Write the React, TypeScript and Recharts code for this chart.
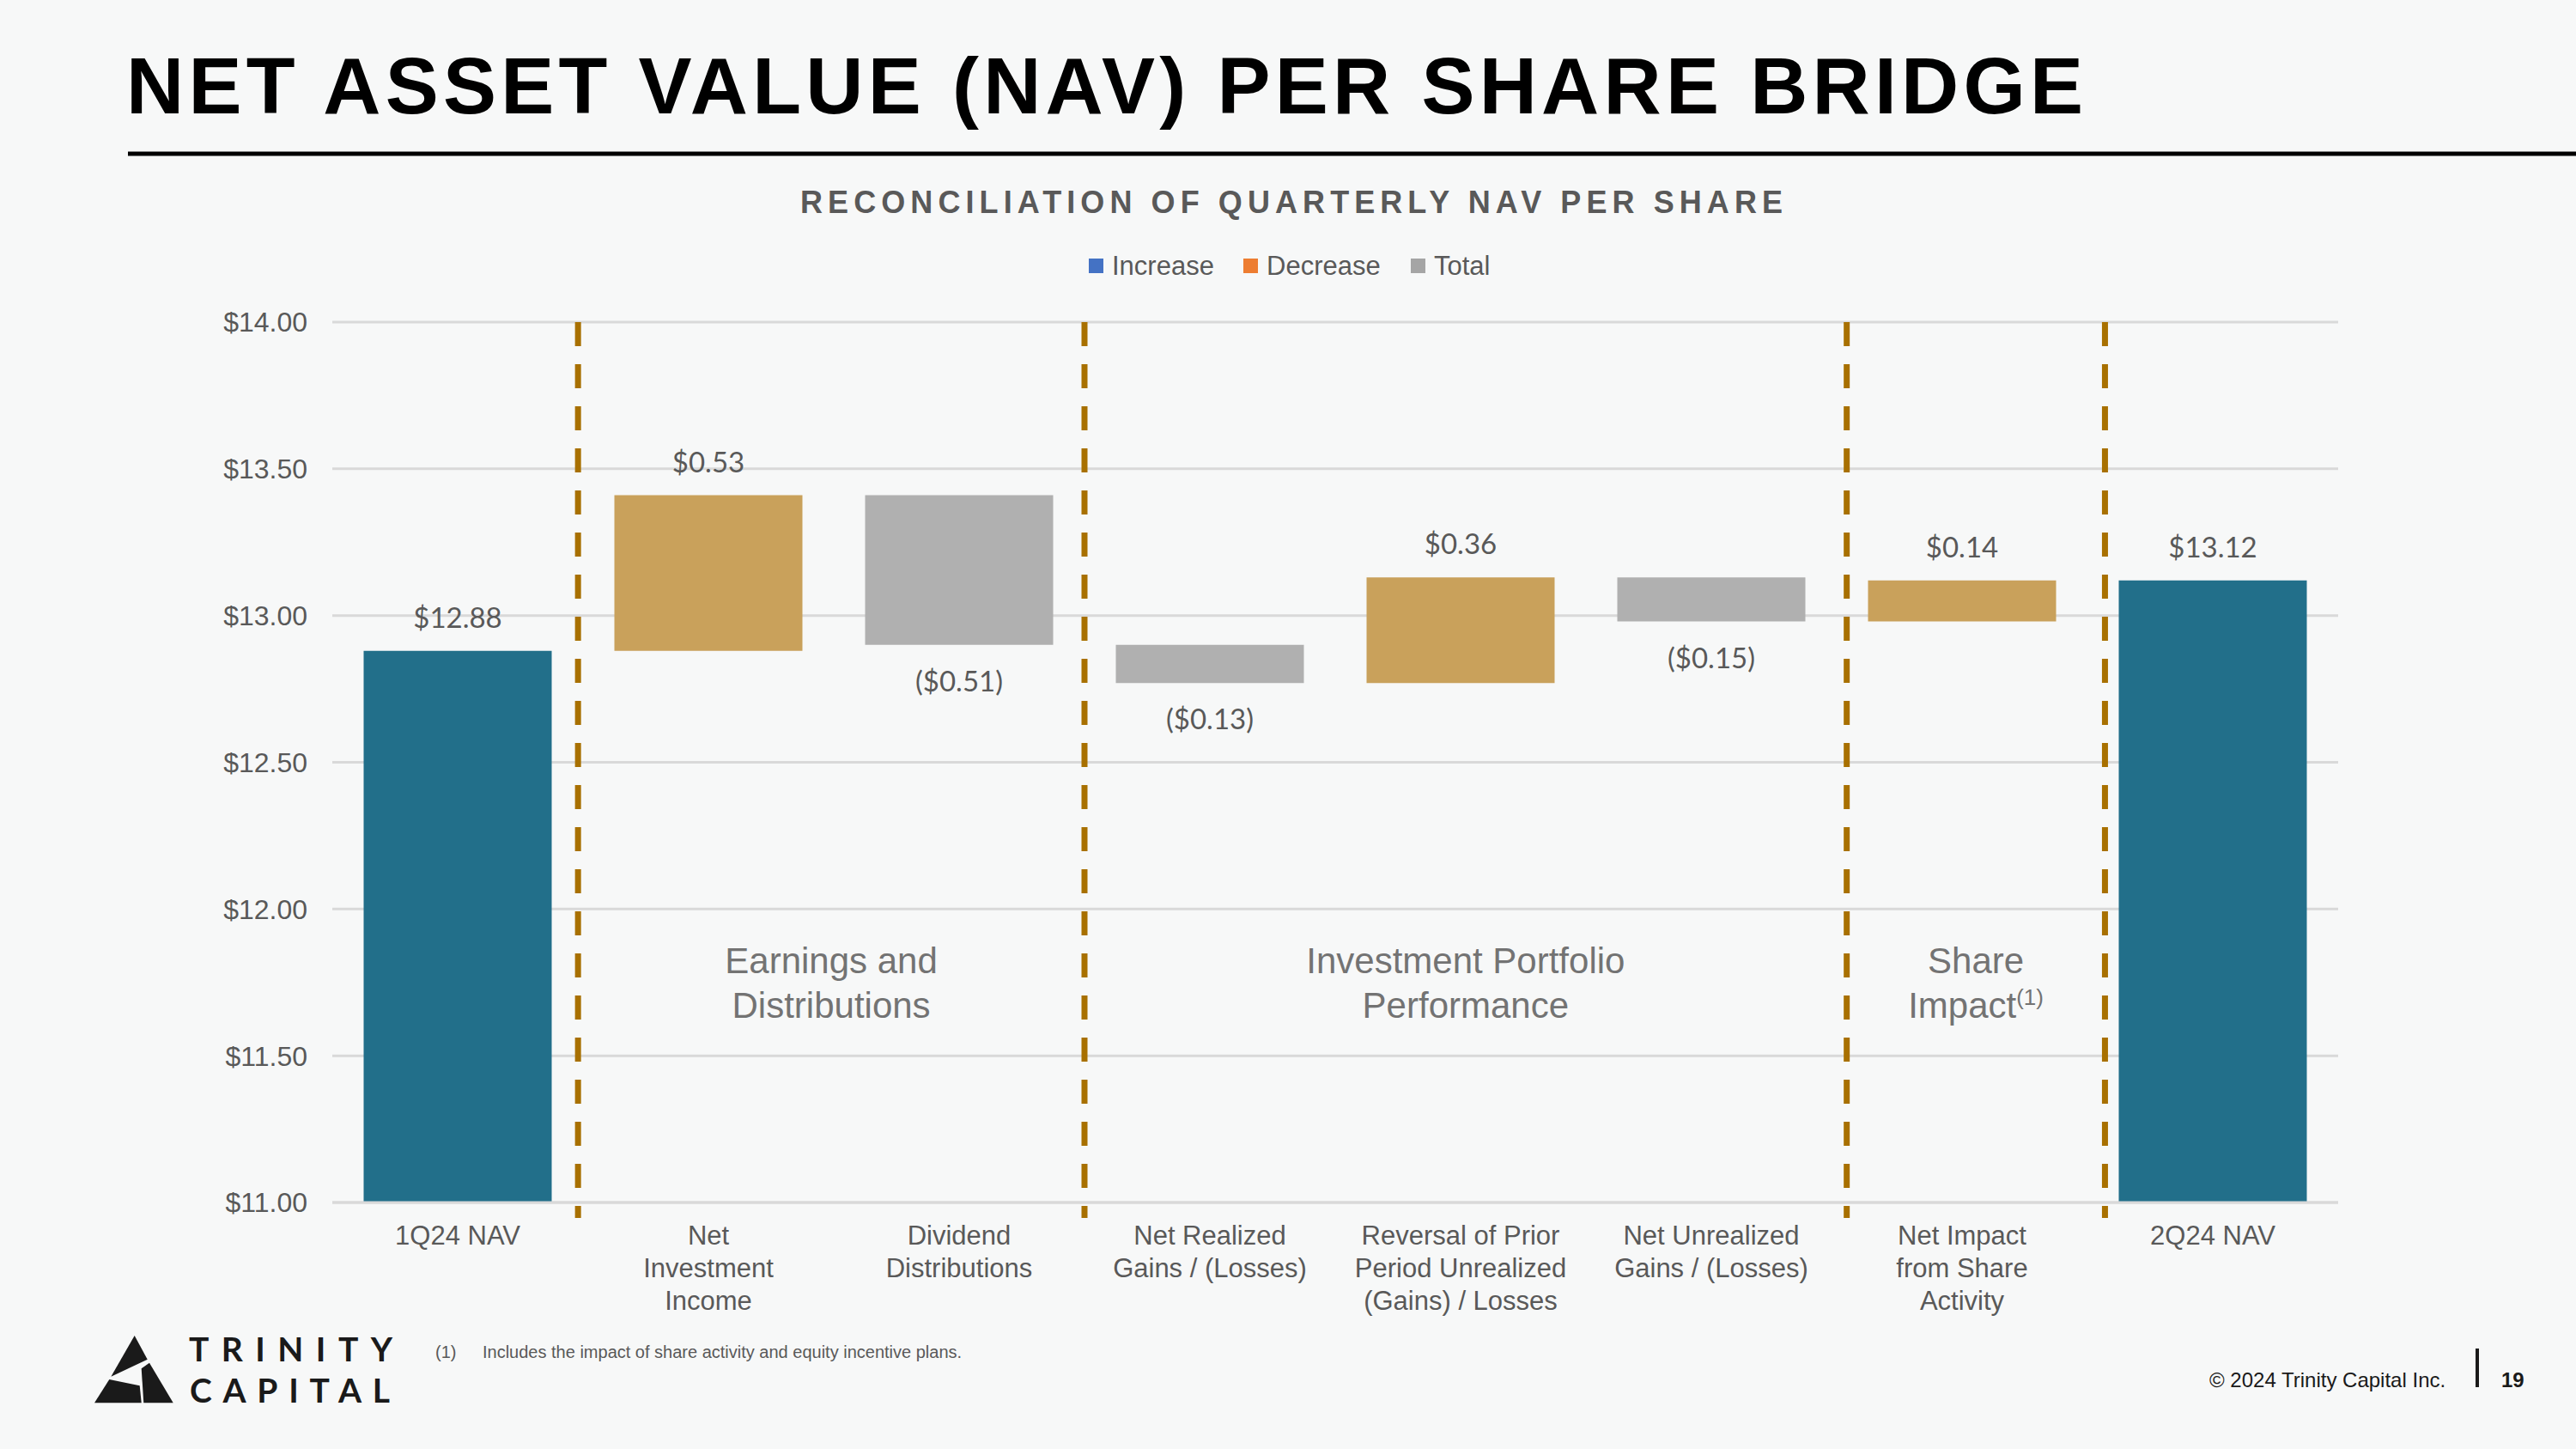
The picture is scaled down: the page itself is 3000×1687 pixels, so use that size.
import { BarChart, Bar, XAxis, YAxis, CartesianGrid, ReferenceLine, LabelList, Cell } from "recharts";

// NAV bridge, 1Q24 -> 2Q24
const categories = [
  "1Q24 NAV",
  "Net\nInvestment\nIncome",
  "Dividend\nDistributions",
  "Net Realized\nGains / (Losses)",
  "Reversal of Prior\nPeriod Unrealized\n(Gains) / Losses",
  "Net Unrealized\nGains / (Losses)",
  "Net Impact\nfrom Share\nActivity",
  "2Q24 NAV",
];
const changes = [12.88, 0.53, -0.51, -0.13, 0.36, -0.15, 0.14, 13.12];
const kinds = ["total", "increase", "decrease", "decrease", "increase", "decrease", "increase", "total"];
const yTicks = [11, 11.5, 12, 12.5, 13, 13.5, 14];
// section boundaries, in category units (0 = centre of the first bar)
const dividers = [0.48, 2.5, 5.54, 6.57];
const groupTitles = [
  { from: 0, to: 1, lines: ["Earnings and", "Distributions"], note: false },
  { from: 1, to: 2, lines: ["Investment Portfolio", "Performance"], note: false },
  { from: 2, to: 3, lines: ["Share", "Impact"], note: true },
];
const legendItems = [
  { label: "Increase", color: "#4472C4" },
  { label: "Decrease", color: "#ED7D31" },
  { label: "Total", color: "#A5A5A5" },
];

const COLORS: Record<string, string> = { total: "#226F8A", increase: "#C9A15B", decrease: "#B0B0B0" };
const ARIAL = '"Liberation Sans", Arial, sans-serif';
const GOLD_LINE = "#A87000";

let running = 0;
const rows = categories.map((name, i) => {
  const kind = kinds[i];
  let range: number[];
  if (kind === "total") {
    running = changes[i];
    range = [0, changes[i]];
  } else {
    const start = running;
    running = Math.round((running + changes[i]) * 100) / 100;
    range = [Math.min(start, running), Math.max(start, running)];
  }
  return { name, slot: i, range, kind, change: changes[i] };
});

const fmt = (v: number) => (v < 0 ? `($${Math.abs(v).toFixed(2)})` : `$${v.toFixed(2)}`);

// plot box
const PLOT_L = 387;
const PLOT_R = 2723;
const PLOT_T = 375;
const PLOT_B = 1400;
const X_AXIS_H = 30;
const slotX = (u: number) => PLOT_L + ((PLOT_R - PLOT_L) * (u + 0.5)) / categories.length;

function CategoryTick(props: any) {
  const { x, y, payload } = props;
  const lines = String(payload.value).split("\n");
  return (
    <text x={x} y={y} textAnchor="middle" fill="#595959" fontSize={31} fontFamily={ARIAL}>
      {lines.map((l, i) => (
        <tspan key={i} x={x} dy={i === 0 ? 49 : 38}>
          {l}
        </tspan>
      ))}
    </text>
  );
}

function ValueLabel(props: any) {
  const { x, y, width, height, index } = props;
  const top = Math.min(y, y + height);
  const bottom = Math.max(y, y + height);
  const below = kinds[index] === "decrease";
  return (
    <text
      x={x + width / 2}
      y={below ? bottom + 54 : top - 27}
      textAnchor="middle"
      fontSize={33}
      fill="#595959"
      fontFamily="Lato, sans-serif"
    >
      {fmt(changes[index])}
    </text>
  );
}

// dashed divider, drawn top-down and run a little past the axis
const DividerLine = (p: any) => {
  const top = Math.min(p.y1, p.y2);
  const bottom = Math.max(p.y1, p.y2);
  return (
    <line x1={p.x1} y1={top} x2={p.x2} y2={bottom + 18} stroke={GOLD_LINE} strokeWidth={7} strokeDasharray="28 21" />
  );
};

function Logo() {
  return (
    <g>
      <polygon points="156.7,1555 171.7,1582.7 129.3,1602.7" fill="#1a1a1a" />
      <polygon points="174,1586.7 201.7,1633.3 167.3,1633.3 164.7,1593.3" fill="#1a1a1a" />
      <polygon points="127.3,1606 162.7,1613.3 164.7,1633.3 110,1633.3" fill="#1a1a1a" />
      <text x={220} y={1585} fontSize={39} fontWeight={700} fontFamily="Lato, sans-serif" fill="#1a1a1a" textLength={237} lengthAdjust="spacing">
        TRINITY
      </text>
      <text x={221} y={1633} fontSize={39} fontWeight={700} fontFamily="Lato, sans-serif" fill="#1a1a1a" textLength={233} lengthAdjust="spacing">
        CAPITAL
      </text>
    </g>
  );
}

export default function App() {
  const legendX = [1268, 1448, 1643];
  return (
    <div
      style={{
        position: "absolute",
        left: 0,
        top: 0,
        width: 3000,
        height: 1687,
        background: "#F7F8F8",
        overflow: "hidden",
        fontFamily: ARIAL,
      }}
    >
      <div style={{ position: "absolute", left: 0, top: 0 }}>
        <BarChart
          width={3000}
          height={1687}
          data={rows}
          barCategoryGap="12.5%"
          margin={{ top: PLOT_T, right: 3000 - PLOT_R, bottom: 1687 - PLOT_B - X_AXIS_H, left: 0 }}
        >
          <CartesianGrid vertical={false} stroke="#D9D9D9" strokeWidth={3} />
          <XAxis
            dataKey="name"
            interval={0}
            height={X_AXIS_H}
            tickLine={false}
            tickSize={0}
            tickMargin={0}
            axisLine={{ stroke: "#D9D9D9", strokeWidth: 3 }}
            tick={<CategoryTick />}
          />
          <XAxis
            xAxisId="pos"
            dataKey="slot"
            type="number"
            domain={[-0.5, categories.length - 0.5]}
            allowDataOverflow
            hide
          />
          <YAxis
            width={PLOT_L}
            domain={[11, 14]}
            ticks={yTicks}
            allowDataOverflow
            axisLine={false}
            tickLine={false}
            tickSize={0}
            tickMargin={29}
            tickFormatter={(v: number) => `$${v.toFixed(2)}`}
            tick={{ fill: "#595959", fontSize: 32, fontFamily: ARIAL }}
          />
          <Bar dataKey="range" isAnimationActive={false}>
            {rows.map((r, i) => (
              <Cell key={i} fill={COLORS[r.kind]} />
            ))}
            <LabelList dataKey="range" content={<ValueLabel />} />
          </Bar>
          {dividers.map((d) => (
            <ReferenceLine key={d} xAxisId="pos" x={d} ifOverflow="visible" shape={<DividerLine />} />
          ))}
        </BarChart>
      </div>

      <svg width={3000} height={1687} style={{ position: "absolute", left: 0, top: 0, pointerEvents: "none" }}>
        <text x={147} y={132} fontSize={93} fontWeight={700} fontFamily={ARIAL} fill="#000" textLength={2279} lengthAdjust="spacing">
          NET ASSET VALUE (NAV) PER SHARE BRIDGE
        </text>
        <line x1={149} y1={179} x2={3000} y2={179} stroke="#000" strokeWidth={5} />
        <text x={932} y={248} fontSize={36} fontWeight={700} fontFamily={ARIAL} fill="#595959" textLength={1144} lengthAdjust="spacing">
          RECONCILIATION OF QUARTERLY NAV PER SHARE
        </text>

        {legendItems.map((it, i) => (
          <g key={it.label}>
            <rect x={legendX[i]} y={301} width={17} height={17} fill={it.color} />
            <text x={legendX[i] + 27} y={320} fontSize={31} fontFamily={ARIAL} fill="#595959">
              {it.label}
            </text>
          </g>
        ))}

        {groupTitles.map((g) => {
          const cx = (slotX(dividers[g.from]) + slotX(dividers[g.to])) / 2;
          return (
            <g key={g.lines[0]}>
              <text x={cx} y={1133} textAnchor="middle" fontSize={42} fontFamily={ARIAL} fill="#737373">
                {g.lines[0]}
              </text>
              <text x={cx} y={1185} textAnchor="middle" fontSize={42} fontFamily={ARIAL} fill="#737373">
                {g.lines[1]}
                {g.note && (
                  <tspan fontSize={26} dy={-15}>
                    (1)
                  </tspan>
                )}
              </text>
            </g>
          );
        })}

        <text x={507} y={1581} fontSize={20} fontFamily={ARIAL} fill="#595959">
          (1)
        </text>
        <text x={562} y={1581} fontSize={20} fontFamily={ARIAL} fill="#595959">
          Includes the impact of share activity and equity incentive plans.
        </text>

        <text x={2573} y={1615} fontSize={24} fontFamily={ARIAL} fill="#1a1a1a">
          © 2024 Trinity Capital Inc.
        </text>
        <rect x={2883} y={1570} width={4} height={45} fill="#1a1a1a" />
        <text x={2913} y={1615} fontSize={24} fontWeight={700} fontFamily={ARIAL} fill="#1a1a1a">
          19
        </text>

        <Logo />
      </svg>
    </div>
  );
}
